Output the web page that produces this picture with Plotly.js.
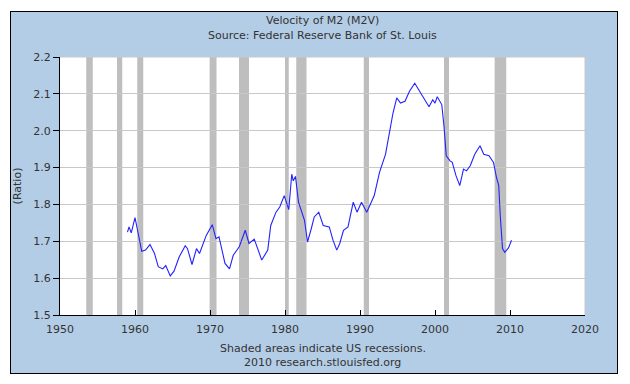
<!DOCTYPE html>
<html>
<head>
<meta charset="utf-8">
<script src="https://cdn.plot.ly/plotly-3.0.1.min.js"></script>
<style>
  html, body { margin: 0; padding: 0; background: #ffffff; }
  #chart { position: absolute; left: 10px; top: 11px; width: 606px; height: 361px; border: 1px solid #000000; }
</style>
</head>
<body>
<div id="chart"></div>
<script>
// Velocity of M2 (ratio)
const years = [
  1959.0, 1959.2, 1959.5, 1960.0, 1960.3, 1960.9, 1961.4, 1962.0, 1962.6, 1963.1,
  1963.7, 1964.1, 1964.7, 1965.2, 1965.9, 1966.7, 1967.0, 1967.6, 1968.2, 1968.6,
  1969.5, 1970.3, 1970.8, 1971.2, 1972.0, 1972.6, 1973.1, 1973.9, 1974.7, 1975.2,
  1975.9, 1976.4, 1976.9, 1977.7, 1978.1, 1978.8, 1979.3, 1979.9, 1980.5, 1980.9,
  1981.1, 1981.4, 1981.8, 1982.6, 1983.0, 1983.5, 1983.9, 1984.5, 1985.1, 1985.9,
  1986.4, 1986.9, 1987.3, 1987.8, 1988.4, 1989.1, 1989.6, 1990.2, 1990.9, 1991.9,
  1992.6, 1993.4, 1993.9, 1994.4, 1994.9, 1995.4, 1996.0, 1996.6, 1997.3, 1998.2,
  1999.2, 1999.7, 2000.0, 2000.3, 2000.9, 2001.2, 2001.5, 2002.0, 2002.3, 2002.8,
  2003.3, 2003.8, 2004.2, 2004.7, 2005.3, 2006.0, 2006.5, 2007.2, 2007.8, 2008.2,
  2008.5, 2008.7, 2009.0, 2009.3, 2009.8, 2010.2
];
const m2v = [
  1.725, 1.739, 1.723, 1.764, 1.734, 1.673, 1.676, 1.691, 1.667, 1.631,
  1.625, 1.634, 1.606, 1.619, 1.658, 1.688, 1.680, 1.637, 1.680, 1.667,
  1.716, 1.745, 1.707, 1.712, 1.640, 1.625, 1.662, 1.685, 1.730, 1.694,
  1.706, 1.680, 1.649, 1.676, 1.743, 1.779, 1.793, 1.824, 1.786, 1.882,
  1.864, 1.876, 1.806, 1.757, 1.698, 1.734, 1.766, 1.779, 1.743, 1.739,
  1.703, 1.676, 1.694, 1.730, 1.739, 1.806, 1.779, 1.806, 1.779, 1.824,
  1.887, 1.936, 1.995, 2.048, 2.089, 2.075, 2.080, 2.107, 2.129, 2.098,
  2.065, 2.084, 2.075, 2.092, 2.071, 2.012, 1.932, 1.918, 1.914, 1.878,
  1.851, 1.896, 1.891, 1.905, 1.936, 1.959, 1.936, 1.932, 1.914, 1.873,
  1.851, 1.770, 1.680, 1.670, 1.682, 1.703
];

// US recessions (NBER), decimal years
const recessionStart = [1953.50, 1957.60, 1960.30, 1969.95, 1973.87, 1980.00, 1981.50, 1990.50, 2001.20, 2007.95];
const recessionEnd   = [1954.37, 1958.30, 1961.10, 1970.87, 1975.20, 1980.50, 1982.87, 1991.20, 2001.87, 2009.50];

const xTicks = [1950, 1960, 1970, 1980, 1990, 2000, 2010, 2020];
const yTicks = [1.5, 1.6, 1.7, 1.8, 1.9, 2.0, 2.1, 2.2];

const titleLines = ['Velocity of M2 (M2V)', 'Source: Federal Reserve Bank of St. Louis'];
const noteLines = ['Shaded areas indicate US recessions.', '2010 research.stlouisfed.org'];
const yTitle = '(Ratio)';

const font = { family: 'DejaVu Sans, Verdana, sans-serif', size: 11, color: '#333333' };

const shapes = recessionStart.map((s, i) => ({
  type: 'rect', xref: 'x', yref: 'paper', x0: s, x1: recessionEnd[i], y0: 0, y1: 1,
  fillcolor: '#BEBEBE', line: { width: 0 }, layer: 'between'
}));
shapes.push({ type: 'line', xref: 'paper', yref: 'paper', x0: 0, x1: 1, y0: 1, y1: 1,
  line: { color: '#C8C8C8', width: 1 }, layer: 'between' });
shapes.push({ type: 'line', xref: 'paper', yref: 'paper', x0: 1, x1: 1, y0: 0, y1: 1,
  line: { color: '#C8C8C8', width: 1 }, layer: 'between' });

const annotations = [
  { text: titleLines[0], xref: 'paper', yref: 'paper', x: 0.5, y: 1.143, showarrow: false, xanchor: 'center', yanchor: 'middle', font: font },
  { text: titleLines[1], xref: 'paper', yref: 'paper', x: 0.5, y: 1.085, showarrow: false, xanchor: 'center', yanchor: 'middle', font: font },
  { text: noteLines[0], xref: 'paper', yref: 'paper', x: 0.5, y: -0.128, showarrow: false, xanchor: 'center', yanchor: 'middle', font: font },
  { text: noteLines[1], xref: 'paper', yref: 'paper', x: 0.5, y: -0.186, showarrow: false, xanchor: 'center', yanchor: 'middle', font: font }
];

const trace = {
  x: years, y: m2v, type: 'scatter', mode: 'lines',
  line: { color: '#2222FF', width: 1.1 }, hoverinfo: 'skip'
};

const layout = {
  width: 606, height: 361,
  margin: { l: 49, r: 32, t: 45, b: 58 },
  paper_bgcolor: '#B4CDE6',
  plot_bgcolor: '#FFFFFF',
  font: font,
  showlegend: false,
  xaxis: {
    range: [1950, 2020], tickvals: xTicks, ticktext: xTicks.map(String),
    ticks: 'inside', ticklen: 5, tickcolor: '#000000', tickwidth: 1,
    showline: true, linecolor: '#000000', linewidth: 1,
    showgrid: false, zeroline: false, tickfont: font,
    ticklabelstandoff: 4
  },
  yaxis: {
    range: [1.5, 2.2], tickvals: yTicks, ticktext: yTicks.map(v => v.toFixed(1)),
    ticks: 'outside', ticklen: 6, tickcolor: '#000000', tickwidth: 1,
    showline: true, linecolor: '#000000', linewidth: 1,
    showgrid: true, gridcolor: '#C8C8C8', gridwidth: 1, zeroline: false,
    tickfont: font,
    title: { text: yTitle, font: font, standoff: 11 }
  },
  shapes: shapes,
  annotations: annotations
};

Plotly.newPlot('chart', [trace], layout, { displayModeBar: false, staticPlot: true });
</script>
</body>
</html>
